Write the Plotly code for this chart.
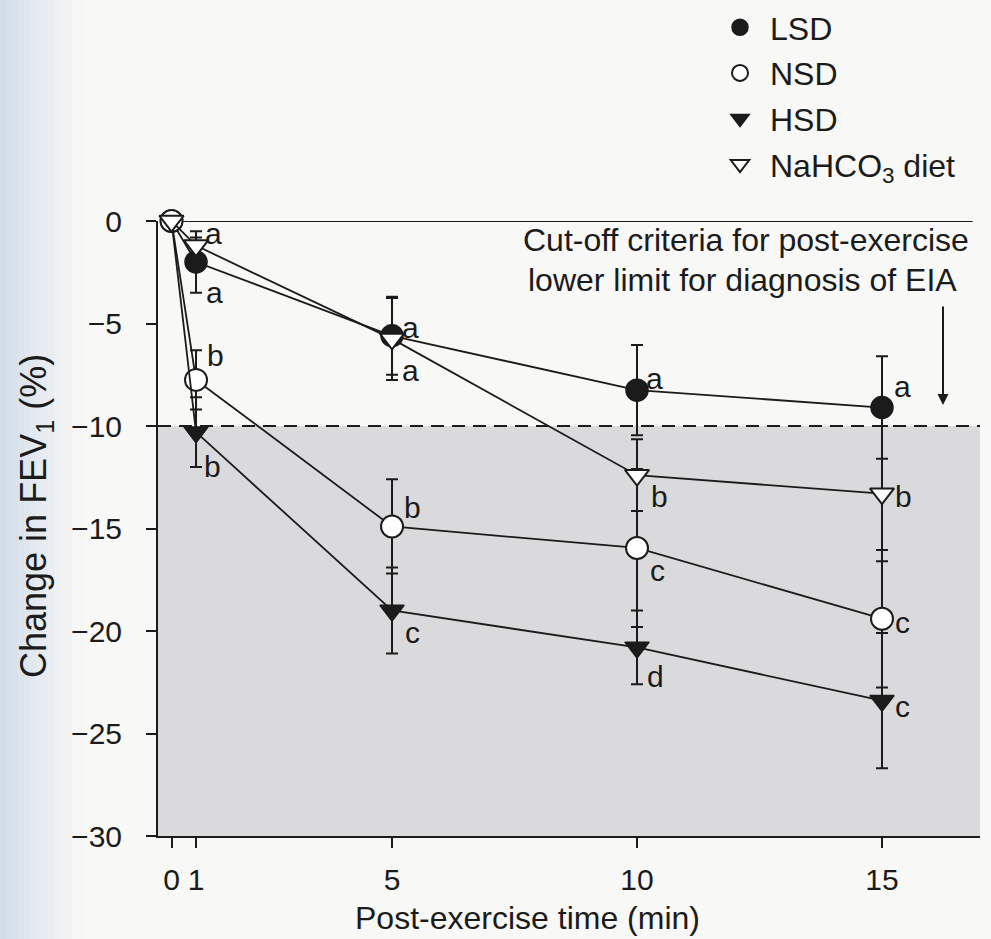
import plotly.graph_objects as go

# ---------------- data ----------------
time_min = [0, 1, 5, 10, 15]          # tick labels (post-exercise time, min)
x_plot = [0.5, 1, 5, 10, 15]          # where the original figure places each time point

lsd_mean = [0, -2.0, -5.6, -8.25, -9.1]
lsd_sd = [None, 1.5, 1.9, 2.2, 2.5]
lsd_letters = ["", "a", "a", "a", "a"]

nsd_mean = [0, -7.75, -14.9, -15.95, -19.4]
nsd_sd = [None, 1.45, 2.3, 3.85, 3.35]
nsd_letters = ["", "b", "b", "c", "c"]

hsd_mean = [0, -10.3, -19.0, -20.8, -23.4]
hsd_sd = [None, 1.7, 2.1, 1.8, 3.3]
hsd_letters = ["", "b", "c", "d", "c"]

nahco3_mean = [0, -1.2, -5.75, -12.4, -13.3]
nahco3_sd = [None, 0.4, 2.0, 1.75, 3.3]
nahco3_letters = ["", "a", "a", "b", "b"]

cutoff = -10
y_ticks = [0, -5, -10, -15, -20, -25, -30]

# ---------------- style ----------------
FONT = "Liberation Sans, Arial, Helvetica, sans-serif"
INK = "#1b1b1b"

# pixel offsets (dx, dy) for significance letters, per series and time point
label_offsets = {
    "LSD": [None, (18, -30), (18, 8), (17, 12), (20, 21)],
    "NSD": [None, (19, 24), (20, 19), (20, -23), (20, -4)],
    "HSD": [None, (16, -34), (20, -22), (18, -29), (20, -6)],
    "NaHCO3": [None, (17, 12), (18, -32), (22, -21), (21, -3)],
}

series = [
    ("LSD", "LSD", lsd_mean, lsd_sd, lsd_letters,
     dict(symbol="circle", size=22, color=INK, line=dict(color=INK, width=1.5))),
    ("NSD", "NSD", nsd_mean, nsd_sd, nsd_letters,
     dict(symbol="circle", size=22, color="white", line=dict(color=INK, width=2))),
    ("HSD", "HSD", hsd_mean, hsd_sd, hsd_letters,
     dict(symbol="triangle-down", size=21, color=INK, line=dict(color=INK, width=1.5))),
    ("NaHCO3", "NaHCO<sub>3</sub> diet", nahco3_mean, nahco3_sd, nahco3_letters,
     dict(symbol="triangle-down", size=21, color="white", line=dict(color=INK, width=2))),
]

fig = go.Figure()

for key, name, mean, sd, letters, marker in series:
    fig.add_trace(go.Scatter(
        x=x_plot, y=mean, name=name, mode="lines+markers",
        line=dict(color=INK, width=1.8),
        marker=marker,
        error_y=dict(type="data", array=sd, symmetric=True,
                     color=INK, thickness=2, width=6),
        showlegend=False, cliponaxis=False,
    ))
    for i, letter in enumerate(letters):
        if not letter:
            continue
        dx, dy = label_offsets[key][i]
        fig.add_annotation(
            x=x_plot[i], y=mean[i], text=letter, showarrow=False,
            xshift=dx, yshift=dy, xanchor="center", yanchor="middle",
            font=dict(family=FONT, size=30, color=INK),
        )

# legend entries (symbols only, as in the original key)
for key, name, mean, sd, letters, marker in series:
    fig.add_trace(go.Scatter(
        x=[None], y=[None], name=name, mode="markers", marker=marker,
        legendgroup=key, showlegend=True,
    ))

# shaded region below cut-off and the dashed cut-off line
fig.add_shape(type="rect", xref="paper", yref="y", x0=0, x1=1, y0=-30, y1=cutoff,
              fillcolor="#dadadc", line=dict(width=0), layer="below")
fig.add_shape(type="line", xref="paper", yref="y", x0=0, x1=1, y0=cutoff, y1=cutoff,
              line=dict(color=INK, width=2, dash="13px,8px"), layer="below")
# zero baseline
fig.add_shape(type="line", xref="x", yref="y", x0=x_plot[0], x1=16.85, y0=0, y1=0,
              line=dict(color=INK, width=2), layer="below")

# faint blue tint of the scanned page at the left edge (smooth fade)
n_steps = 14
for k in range(n_steps):
    px0, px1 = k * 6, (k + 1) * 6
    a = 0.55 * (1 - k / n_steps) ** 1.3
    fig.add_shape(type="rect", xref="paper", yref="paper",
                  x0=(px0 - 158) / 822, x1=(px1 - 158) / 822, y0=-0.2, y1=1.37,
                  fillcolor=f"rgba(178,198,224,{a:.3f})", line=dict(width=0), layer="below")

# cut-off text and arrow
fig.add_annotation(xref="paper", yref="paper", x=(746 - 158) / 822, y=1 - (240 - 221) / 615,
                   text="Cut-off criteria for post-exercise", showarrow=False,
                   xanchor="center", yanchor="middle",
                   font=dict(family=FONT, size=32, color=INK))
fig.add_annotation(xref="paper", yref="paper", x=(742 - 158) / 822, y=1 - (280 - 221) / 615,
                   text="lower limit for diagnosis of EIA", showarrow=False,
                   xanchor="center", yanchor="middle",
                   font=dict(family=FONT, size=32, color=INK))
fig.add_annotation(xref="paper", yref="paper", x=(943 - 158) / 822, y=1 - (405 - 221) / 615,
                   text="", showarrow=True, ax=0, ay=-100, arrowhead=2, arrowsize=1.1,
                   arrowwidth=2, arrowcolor=INK)

# axis titles
fig.add_annotation(xref="paper", yref="paper", x=(527 - 158) / 822, y=1 - (918 - 221) / 615,
                   text="Post-exercise time (min)", showarrow=False,
                   xanchor="center", yanchor="middle",
                   font=dict(family=FONT, size=32, color=INK))
fig.add_annotation(xref="paper", yref="paper", x=(36 - 158) / 822, y=1 - (516 - 221) / 615,
                   text="Change in FEV<sub>1</sub> (%)", showarrow=False, textangle=-90,
                   xanchor="center", yanchor="middle",
                   font=dict(family=FONT, size=36, color=INK))

fig.update_layout(
    width=991, height=939,
    margin=dict(l=158, r=11, t=221, b=103, autoexpand=False),
    paper_bgcolor="#f8f8f6", plot_bgcolor="rgba(0,0,0,0)",
    font=dict(family=FONT, size=30, color=INK),
    showlegend=True,
    legend=dict(xref="container", yref="container",
                x=710 / 991, y=1.0, xanchor="left", yanchor="top",
                bgcolor="rgba(0,0,0,0)", font=dict(family=FONT, size=32, color=INK),
                traceorder="grouped", tracegroupgap=1, itemwidth=50),
    xaxis=dict(range=[0.224, 17.0], tickvals=x_plot, ticktext=[str(t) for t in time_min],
               ticks="outside", ticklen=10, tickwidth=2, tickcolor=INK,
               showline=True, linewidth=2, linecolor=INK, showgrid=False, zeroline=False,
               ticklabelstandoff=6, tickfont=dict(family=FONT, size=30, color=INK)),
    yaxis=dict(range=[-30, 0], tickvals=y_ticks,
               ticktext=[("\u2212" + str(-v)) if v < 0 else str(v) for v in y_ticks],
               ticks="outside", ticklen=10, tickwidth=2, tickcolor=INK,
               showline=True, linewidth=2, linecolor=INK, showgrid=False, zeroline=False,
               ticklabelstandoff=18, tickfont=dict(family=FONT, size=30, color=INK)),
)

fig.write_html("out.html")
